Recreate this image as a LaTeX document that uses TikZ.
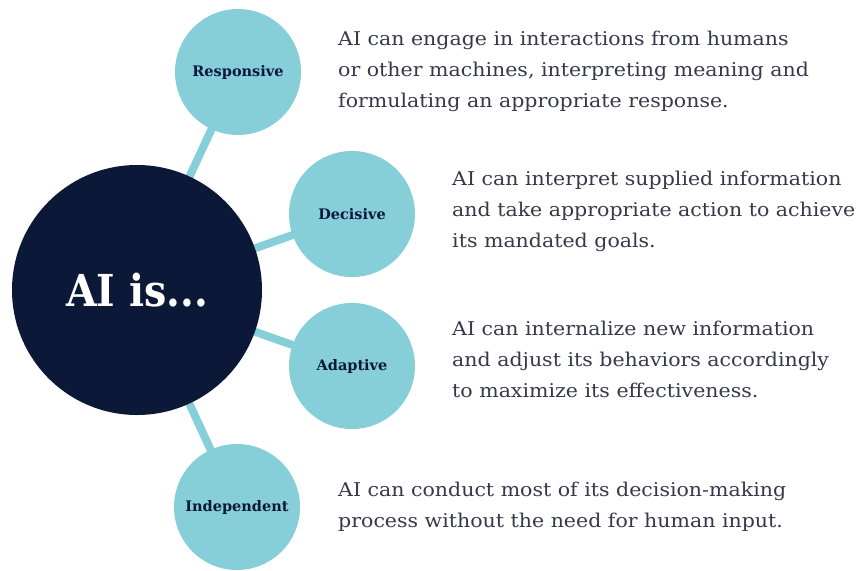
\documentclass[tikz,border=0pt]{standalone}
\usepackage{fontspec}
\setmainfont[FakeStretch=1.08]{DejaVu Serif}
\newfontfamily\labfont{DejaVu Serif}
\newfontfamily\bigfont[FakeStretch=0.9]{DejaVu Serif}
\definecolor{teal}{HTML}{86CFD9}
\definecolor{navy}{HTML}{0B1838}
\definecolor{txt}{HTML}{35394A}
\begin{document}
\begin{tikzpicture}[x=1pt,y=-1pt,
  small/.style={circle,fill=teal,minimum size=126pt,inner sep=0pt,text=navy,font=\labfont\bfseries\fontsize{14.5}{16}\selectfont},
  big/.style={circle,fill=navy,minimum size=250pt,inner sep=0pt,text=white,font=\bigfont\bfseries\fontsize{44}{50}\selectfont},
  link/.style={teal,line width=8pt},
  desc/.style={anchor=base west,inner sep=0pt,text=txt,font=\fontsize{19}{24}\selectfont}]
\useasboundingbox (0,0) rectangle (858,570);
\coordinate (c) at (137,290);
\coordinate (pr) at (238,72);
\coordinate (pd) at (352,214);
\coordinate (pa) at (352,366);
\coordinate (pi) at (237,507);
\draw[link] (c) -- (pr);
\draw[link] (c) -- (pd);
\draw[link] (c) -- (pa);
\draw[link] (c) -- (pi);
\node[small] (r) at (pr) {Responsive};
\node[small] (d) at (pd) {Decisive};
\node[small] (a) at (pa) {Adaptive};
\node[small] (i) at (pi) {Independent};
\node[big] (ai) at (c) {AI is...};
\node[desc] (tr1) at (338,45) {AI can engage in interactions from humans};
\node[desc] (tr2) at (338,76) {or other machines, interpreting meaning and};
\node[desc] (tr3) at (338,107) {formulating an appropriate response.};
\node[desc] (td1) at (452,185) {AI can interpret supplied information};
\node[desc] (td2) at (452,216) {and take appropriate action to achieve};
\node[desc] (td3) at (452,247) {its mandated goals.};
\node[desc] (ta1) at (452,335) {AI can internalize new information};
\node[desc] (ta2) at (452,366) {and adjust its behaviors accordingly};
\node[desc] (ta3) at (452,397) {to maximize its effectiveness.};
\node[desc] (ti1) at (338,496) {AI can conduct most of its decision-making};
\node[desc] (ti2) at (338,527) {process without the need for human input.};
\end{tikzpicture}
\end{document}
